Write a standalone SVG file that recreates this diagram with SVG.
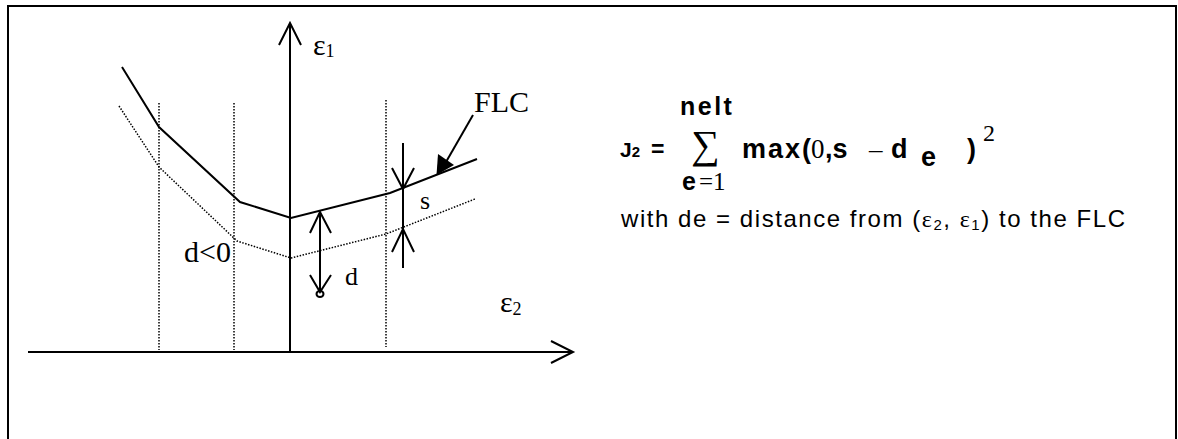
<svg xmlns="http://www.w3.org/2000/svg" width="1178" height="439" viewBox="0 0 1178 439">
<style>
.ln{fill:none;stroke:#000;stroke-width:2;stroke-linejoin:miter}
.dot{fill:none;stroke:#000;stroke-width:1.5;stroke-dasharray:1.5 1.5}
.ser{font-family:"Liberation Serif","Times New Roman",serif;fill:#000}
.sans{font-family:"Liberation Sans",Arial,sans-serif;fill:#000}
.b{font-weight:bold}
</style>
<rect width="1178" height="439" fill="#fff"/>
<path class="ln" d="M8,445 V6 H1176 V445"/>
<g id="grid">
<path class="dot" d="M159,103 V350 M234,103 V350 M386,100 V347"/>
</g>
<g id="axes">
<path class="ln" d="M290,352 V23 M279,45 L290,23 L301,45"/>
<path class="ln" d="M28,352 H573 M551,341 L573,352 L551,363"/>
<text class="ser" x="313" y="55" font-size="30">ε<tspan font-size="18" dy="2">1</tspan></text>
<text class="ser" x="500" y="312" font-size="30">ε<tspan font-size="18" dy="3">2</tspan></text>
</g>
<g id="flc">
<path class="ln" d="M122,67 L159,127 L240,202 L291,218 L390,193 L477,159"/>
<text class="ser" x="474" y="112" font-size="30">FLC</text>
</g>
<g id="offset-curve">
<path class="dot" d="M119,106 L159,167 L237,241 L291,258 L386,234 L475,199"/>
<text class="ser" x="184" y="262" font-size="30">d&lt;0</text>
</g>
<g id="connectors">
<path class="ln" d="M473,115 L446,162"/>
<polygon points="436.5,175 438,154 454,165" fill="#000"/>
<path class="ln" d="M320,212 V292 M310,233 L320,212 L331,233 M310,275 L320,292 L331,275"/>
<ellipse cx="320" cy="294" rx="3.5" ry="3" fill="none" stroke="#000" stroke-width="2"/>
<text class="ser" x="345" y="285" font-size="26">d</text>
<path class="ln" d="M403,143 V268 M392,168 L403,189 L414,168 M392,252 L403,229 L414,252"/>
<text class="ser" x="420" y="209" font-size="26">s</text>
</g>
<g id="formula">
<text class="sans b" x="680" y="115" font-size="25" letter-spacing="2.5">nelt</text>
<text class="sans b" x="620" y="157" font-size="21">J<tspan font-size="15">2</tspan></text>
<text class="sans b" x="651" y="157" font-size="23">=</text>
<text class="ser" x="691" y="158" font-size="40">∑</text>
<text class="sans b" x="742" y="158" font-size="27" letter-spacing="2">max(</text>
<text class="ser" x="811" y="158" font-size="27">0</text>
<text class="sans b" x="825" y="158" font-size="27">,s</text>
<text class="ser" x="869" y="158" font-size="27">–</text>
<text class="sans b" x="891" y="158" font-size="27">d</text>
<text class="sans b" x="921" y="166" font-size="27">e</text>
<text class="sans b" x="967" y="158" font-size="27">)</text>
<text class="ser" x="983" y="141" font-size="24">2</text>
<text class="sans b" x="682" y="190" font-size="25">e</text>
<text class="ser" x="699" y="190" font-size="25">=1</text>
<text class="sans" x="621" y="227" font-size="24" textLength="504">with de = distance from (<tspan class="ser">ε</tspan><tspan font-size="15" dy="3">2</tspan><tspan dy="-3">, </tspan><tspan class="ser">ε</tspan><tspan font-size="15" dy="3">1</tspan><tspan dy="-3">) to the FLC</tspan></text>
</g>
</svg>
